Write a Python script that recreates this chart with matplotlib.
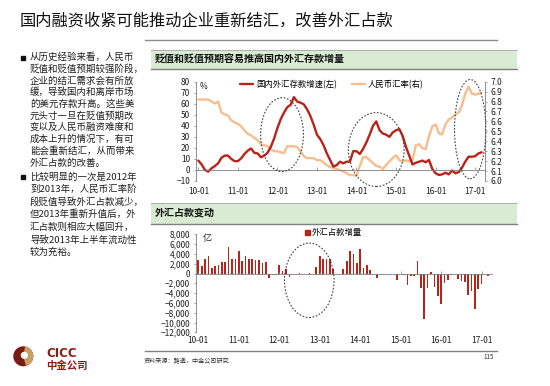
import matplotlib
matplotlib.use('Agg')
import matplotlib.pyplot as plt
from matplotlib.patches import Ellipse, Rectangle, Circle, Wedge
import matplotlib.ticker as mticker
import numpy as np

plt.rcParams['font.family'] = ['Noto Sans CJK SC', 'DejaVu Sans']

# ---- data (monthly, 2010-01 .. 2017-03) ----
deposit_growth = [8.5, 5, 0, -1.5, 1.5, 3.5, 6, 11, 13, 13, 10, 8, 8, 10.5, 14.5, 17.5,
                  19.5, 15.5, 15, 11.5, 13, 15.5, 21, 28.5, 38, 46, 52, 57, 59, 66, 62,
                  61, 59.5, 55, 49, 41, 32, 28, 22.5, 15, 9, 3, 4.5, 7.5, 6, 7.5, 7.5,
                  17, 17, 14.5, 19, 25, 32, 40, 44, 36, 33, 32, 30, 34, 36, 37, 31, 21,
                  13, 5, 6.5, 7.5, 8.5, 7, 9, 1, -3, -4.5, -4, -2.5, -4, -0.5, -3, -2,
                  2, 7.5, 12, 12, 12.5, 15, 16]
cny_rate = [6.82, 6.82, 6.82, 6.82, 6.80, 6.78, 6.80, 6.69, 6.67, 6.66, 6.61, 6.59,
            6.575, 6.55, 6.51, 6.475, 6.46, 6.435, 6.41, 6.37, 6.36, 6.35, 6.32, 6.30,
            6.30, 6.29, 6.28, 6.35, 6.35, 6.35, 6.34, 6.30, 6.25, 6.23, 6.23, 6.23,
            6.21, 6.21, 6.185, 6.16, 6.14, 6.13, 6.12, 6.11, 6.095, 6.08, 6.06, 6.06,
            6.05, 6.15, 6.24, 6.24, 6.21, 6.18, 6.15, 6.145, 6.12, 6.16, 6.20, 6.23,
            6.26, 6.21, 6.195, 6.205, 6.20, 6.21, 6.36, 6.37, 6.33, 6.32, 6.45, 6.55,
            6.57, 6.48, 6.47, 6.57, 6.62, 6.64, 6.67, 6.69, 6.76, 6.88, 6.95, 6.88,
            6.87, 6.88, 6.89]
fx_change = [2720, 1500, 2860, 3670, 1090, 1500, 1700, 2300, 2300, 5500, 3060, 3000,
             4560, 2450, 3670, 3000, 3060, 2720, 2720, 2240, 2300, -1000, -340, -340,
             1700, 540, 900, -750, -200, -30, 20, -40, 0, 30, -200, 1360,
             3470, 3060, 3000, 2860, 1020, -100, -50, 1020, 2650, 4490, 3940, 2240,
             4900, 1090, 1700, 750, -50, -880, -150, -50, -100, -50, -150, -1300,
             -100, -340, -2380, -480, -480, 2650, -3060, -9300, -2860, 400, -2800, -4620,
             -6320, -1840, -1360, -340, -100, -1220, -1560, -1700, -4350, -3540, -7280, -3200,
             -2100, -100, -480]
year_labels = ['10-01', '11-01', '12-01', '13-01', '14-01', '15-01', '16-01', '17-01']

title = '国内融资收紧可能推动企业重新结汇，改善外汇占款'
para1 = ['从历史经验来看，人民币', '贬值和贬值预期较强阶段，', '企业的结汇需求会有所放',
         '缓，导致国内和离岸市场', '的美元存款升高。这些美', '元头寸一旦在贬值预期改',
         '变以及人民币融资难度和', '成本上升的情况下，有可', '能会重新结汇，从而带来',
         '外汇占款的改善。']
para2 = ['比较明显的一次是2012年', '到2013年，人民币汇率阶', '段贬值导致外汇占款减少，',
         '但2013年重新升值后，外', '汇占款则相应大幅回升，', '导致2013年上半年流动性',
         '较为充裕。']

RED = '#b8231a'
ORANGE = '#f8bd8c'
GRAY = '#7f7f7f'
TXT = '#1e1e1e'
DASH = '#404040'

W, H = 550, 386
fig = plt.figure(figsize=(W / 100, H / 100), dpi=100)

# background layer in pixel coordinates
bg = fig.add_axes([0, 0, 1, 1], zorder=0)
bg.set_xlim(0, W)
bg.set_ylim(H, 0)
bg.axis('off')

bg.text(20, 21.5, title, fontsize=11.7, va='center', color='#111111')
bg.plot([145, 497], [39.5, 39.5], color='#8c8c8c', lw=1.0)

for i, s in enumerate(para1):
    bg.text(30, 57.5 + i * 11.7, s, fontsize=6.8, va='center', color=TXT)
for i, s in enumerate(para2):
    bg.text(30, 177 + i * 12.5, s, fontsize=6.8, va='center', color=TXT)
for y in [57.5, 177]:
    bg.add_patch(Rectangle((20.5, y - 2), 4, 4, color='#111111'))

# chart headers
for (y0, y1, s) in [(50, 69, '贬值和贬值预期容易推高国内外汇存款增量'), (202.5, 223.5, '外汇占款变动')]:
    bg.add_patch(Rectangle((151, y0), 366, y1 - y0, color='#d9ebd3', lw=0))
    bg.plot([151, 517], [y0, y0], color='#a6a6a6', lw=0.6)
    bg.plot([151, 517], [y1, y1], color='#808080', lw=1.0)
    bg.text(155, (y0 + y1) / 2, s, fontsize=7.2, fontweight='bold', va='center', color='#111111')

# footer
bg.plot([145, 497], [351, 351], color='#808080', lw=1.0)
bg.text(144, 361.7, '资料来源：路透，中金公司研究', fontsize=4.4, va='center', color='#333333')
bg.text(483, 356.7, '115', fontsize=4.5, va='center', color='#333333')

# logo
bg.add_patch(Circle((23.3, 356.3), 10, color='#7a1d10', lw=0))
bg.add_patch(Wedge((23.3, 356.3), 10, -80, 75, color='#c9a063', lw=0))
bg.add_patch(Circle((24.3, 355.3), 3.6, color='white', lw=0))
bg.text(46.5, 353.8, 'CICC', fontsize=8.5, fontweight='bold', va='center', color='#8b1c13',
        family=['DejaVu Sans'])
bg.text(46.5, 365.7, '中金公司', fontsize=7.5, fontweight='bold', va='center', color='#8b1c13')

# ---- top chart ----
months = np.arange(len(deposit_growth))
year_pos = np.arange(len(year_labels)) * 12

ax1 = fig.add_axes([195.7 / W, 1 - 181 / H, (485 - 195.7) / W, (181 - 81.7) / H], zorder=2)
ax2 = ax1.twinx()
ax1.set_zorder(ax2.get_zorder() + 1)
ax1.patch.set_visible(False)

l2, = ax2.plot(months, cny_rate, color=ORANGE, lw=1.7, solid_capstyle='round')
l1, = ax1.plot(months, deposit_growth, color=RED, lw=1.7, solid_capstyle='round')
ax1.set_xlim(-0.8, 87)
ax1.set_ylim(-10, 80)
ax1.set_yticks(range(-10, 81, 10))
ax2.set_ylim(6.0, 7.0)
ax2.set_yticks(np.arange(6.0, 7.01, 0.1))
ax2.yaxis.set_major_formatter(mticker.FormatStrFormatter('%.1f'))
ax1.set_xticks(year_pos)
ax1.set_xticklabels(year_labels)

for a in (ax1, ax2):
    a.spines['top'].set_visible(False)
ax1.spines['right'].set_visible(False)
ax2.spines['left'].set_visible(False)
ax2.spines['bottom'].set_visible(False)
ax1.spines['bottom'].set_position(('data', 0))
ax1.spines['bottom'].set_color(GRAY)
ax1.spines['bottom'].set_linewidth(0.6)
ax1.spines['left'].set_color(GRAY)
ax1.spines['left'].set_linewidth(0.6)
ax2.spines['right'].set_color(GRAY)
ax2.spines['right'].set_linewidth(0.6)
ax1.tick_params(axis='x', direction='in', length=2, width=0.5, color=GRAY, pad=12,
                labelsize=6, labelcolor=TXT)
ax1.tick_params(axis='y', direction='out', length=1.5, width=0.5, color=GRAY, pad=2.5,
                labelsize=6, labelcolor=TXT)
ax2.tick_params(axis='y', direction='out', length=1.5, width=0.5, color=GRAY, pad=2.5,
                labelsize=6, labelcolor=TXT)

ax1.text(0.4, 80, '%', fontsize=6, va='top', ha='left', color=TXT)
ax1.legend([l1, l2], ['国内外汇存款增速(左)', '人民币汇率(右)'], loc='center',
           bbox_to_anchor=(0.47, 0.974), ncol=2, frameon=False, fontsize=6,
           handlelength=1.6, handletextpad=0.3, columnspacing=1.8, borderpad=0)

# dashed circles: (centre month, centre value, width in months, height in %)
ellipses = [(25.4, 32, 13, 67), (54, 18.5, 16.9, 67), (82.5, 37, 9.5, 90)]
for (cx, cy, w, h) in ellipses:
    e = Ellipse((cx, cy), w, h, fill=False, linestyle=(0, (1.5, 1.5)), linewidth=0.8,
                edgecolor=DASH, clip_on=False, zorder=10)
    ax1.add_artist(e)

# ---- bottom chart ----
ax3 = fig.add_axes([195.7 / W, 1 - 332.3 / H, (491.7 - 195.7) / W, (332.3 - 234.3) / H], zorder=2)
ax3.patch.set_visible(False)
bars = ax3.bar(np.arange(len(fx_change)), fx_change, width=0.5, color=RED, lw=0)
ax3.set_xlim(-0.77, 87)
ax3.set_ylim(-12000, 8000)
ax3.set_yticks(range(-12000, 8001, 2000))
ax3.yaxis.set_major_formatter(mticker.StrMethodFormatter('{x:,.0f}'))
ax3.set_xticks(year_pos)
ax3.set_xticklabels(year_labels)
ax3.spines['top'].set_visible(False)
ax3.spines['right'].set_visible(False)
ax3.spines['bottom'].set_position(('data', 0))
for sp in ('bottom', 'left'):
    ax3.spines[sp].set_color(GRAY)
    ax3.spines[sp].set_linewidth(0.6)
ax3.tick_params(axis='x', direction='in', length=2, width=0.5, color=GRAY, pad=45,
                labelsize=6, labelcolor=TXT)
ax3.tick_params(axis='y', direction='out', length=1.5, width=0.5, color=GRAY, pad=2.5,
                labelsize=6, labelcolor=TXT)
ax3.text(1.4, 8000, '亿', fontsize=6.5, va='top', ha='left', color=TXT)
ax3.legend([Rectangle((0, 0), 1, 1, color=RED)], ['外汇占款增量'], loc='center',
           bbox_to_anchor=(0.464, 1.016), frameon=False, fontsize=6, handlelength=0.6,
           handleheight=0.6, handletextpad=0.2, borderpad=0)
ax3.add_artist(Ellipse((32.9, -1390), 14.7, 15200, fill=False, linestyle=(0, (1.5, 1.5)),
                       linewidth=0.8, edgecolor=DASH, clip_on=False, zorder=10))

fig.savefig('out.png', dpi=100)
